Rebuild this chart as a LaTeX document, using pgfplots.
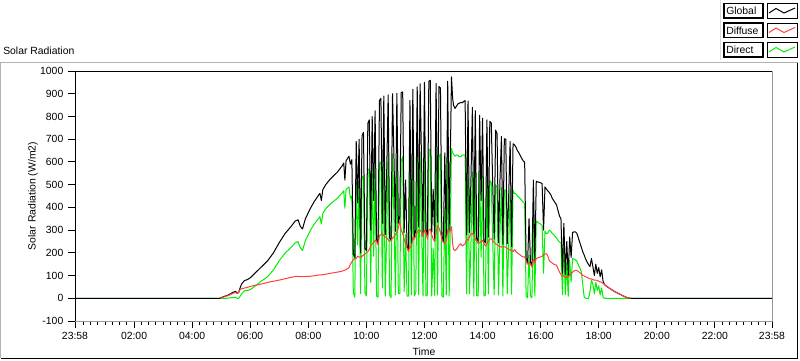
\documentclass[border=0pt]{standalone}
\usepackage{pgfplots}
\pgfplotsset{compat=1.18}
\usepackage{pgfplotstable}
\usepackage{fontspec}
\setmainfont{Liberation Sans}
\definecolor{df}{RGB}{255,64,64}
\definecolor{dr}{RGB}{0,240,0}
\newcommand{\tf}{\fontsize{7.8bp}{9bp}\selectfont}

\pgfplotstableread{
t G D B
-0.0333 0 0 0
4.95 0 0 0
5.0 3 2 0
5.1 8 6 0
5.2 12 10 0
5.3 18 15 2
5.4 26 22 3
5.5 30 25 4
5.55 22 22 0
5.6 25 25 0
5.65 45 38 8
5.7 62 42 20
5.8 78 45 33
5.9 82 48 34
6.0 90 52 38
6.2 115 58 57
6.4 140 63 77
6.6 165 70 95
6.8 200 75 125
7.0 245 80 165
7.2 285 86 199
7.4 315 92 223
7.55 340 96 244
7.65 345 96 249
7.72 318 95 223
7.8 305 95 210
7.9 350 96 254
8.07 395 97 298
8.2 425 99 326
8.4 462 103 359
8.45 430 103 327
8.5 478 104 374
8.6 500 106 394
8.76 525 110 415
9.0 555 115 440
9.15 580 119 461
9.22 595 122 473
9.26 520 124 396
9.3 605 126 479
9.4 625 135 490
9.45 590 150 440
9.50 610 160 450
9.55 195 170 25
9.60 180 175 5
9.65 690 175 515
9.70 420 185 235
9.75 700 182 518
9.80 200 180 20
9.85 715 185 530
9.90 730 190 540
9.95 220 195 25
10.00 210 200 10
10.05 770 205 565
10.10 785 215 570
10.15 300 230 70
10.20 800 240 560
10.25 430 245 185
10.30 825 255 570
10.35 260 250 10
10.40 240 235 5
10.45 870 275 595
10.50 880 280 600
10.55 330 285 45
10.60 890 275 615
10.65 280 270 10
10.70 560 265 295
10.75 895 258 637
10.80 265 250 15
10.85 258 255 3
10.90 900 265 635
10.95 620 270 350
11.00 295 280 15
11.05 902 290 612
11.10 330 310 20
11.15 360 340 20
11.20 905 300 605
11.25 908 285 623
11.30 290 260 30
11.35 520 240 280
11.40 230 220 10
11.45 215 205 10
11.50 870 230 640
11.55 240 225 15
11.60 920 270 650
11.65 270 260 10
11.70 300 275 25
11.75 930 290 640
11.80 315 300 15
11.85 944 300 644
11.90 600 290 310
11.95 280 270 10
12.00 950 300 650
12.05 300 290 10
12.10 275 260 15
12.15 955 300 655
12.20 959 305 654
12.25 290 280 10
12.30 480 260 220
12.35 262 250 12
12.40 945 290 655
12.45 335 320 15
12.50 932 310 622
12.55 925 290 635
12.60 270 260 10
12.65 250 245 5
12.70 640 240 400
12.75 265 250 15
12.80 955 300 655
12.85 300 290 10
12.90 700 300 400
12.93 974 315 659
12.97 880 240 640
13.00 850 215 635
13.05 835 210 625
13.10 845 215 630
13.15 855 225 630
13.20 858 235 623
13.25 862 240 622
13.30 860 230 630
13.35 866 235 631
13.40 870 240 630
13.45 280 260 20
13.50 868 255 613
13.55 290 270 20
13.60 520 285 235
13.65 840 285 555
13.70 285 275 10
13.75 825 260 565
13.80 262 250 12
13.85 250 240 10
13.90 805 245 560
13.95 430 250 180
14.00 792 255 537
14.05 250 240 10
14.10 245 230 15
14.15 785 240 545
14.20 270 250 20
14.25 778 260 518
14.30 772 262 510
14.35 500 255 245
14.40 260 245 15
14.45 740 240 500
14.50 725 235 490
14.55 245 230 15
14.60 520 228 292
14.65 712 225 487
14.70 238 228 10
14.75 702 226 476
14.80 700 225 475
14.85 240 220 20
14.90 450 215 235
14.95 690 212 478
15.00 228 210 18
15.05 680 205 475
15.10 675 215 460
15.15 665 205 460
15.20 650 200 450
15.25 640 195 445
15.30 628 190 438
15.35 615 185 430
15.40 605 182 423
15.45 598 182 416
15.50 175 165 10
15.55 152 150 2
15.60 350 160 190
15.65 160 150 10
15.70 140 138 2
15.75 520 170 350
15.80 165 155 10
15.85 515 175 340
15.90 512 178 334
15.95 510 180 330
16.00 508 182 326
16.05 505 185 320
16.10 300 190 110
16.15 490 195 295
16.20 480 196 284
16.25 472 185 287
16.30 465 165 300
16.35 455 160 295
16.40 440 155 285
16.45 430 150 280
16.50 420 148 272
16.55 410 145 265
16.60 385 130 255
16.65 362 115 247
16.70 350 105 245
16.75 110 95 15
16.80 330 100 230
16.85 105 90 15
16.90 250 95 155
16.95 100 92 8
17.00 270 105 165
17.05 180 108 72
17.10 290 115 175
17.15 292 120 172
17.20 292 123 169
17.25 285 122 163
17.30 265 118 147
17.35 245 112 133
17.40 225 108 117
17.45 205 100 60
17.50 190 98 5
17.55 172 95 0
17.60 160 92 0
17.65 148 88 0
17.70 140 85 30
17.75 175 85 80
17.80 138 82 60
17.85 100 80 20
17.90 150 80 70
17.95 110 78 35
18.00 135 75 55
18.05 95 72 15
18.10 125 70 45
18.15 75 66 5
18.20 60 60 0
18.30 50 50 0
18.40 42 42 0
18.50 33 33 0
18.60 26 26 0
18.70 20 20 0
18.80 13 13 0
18.90 7 7 0
19.00 2 2 0
19.10 0 0 0
23.9667 0 0 0
}\solar

\begin{document}
\begin{tikzpicture}[font=\tf]
\begin{scope}[x=0.75bp,y=-0.75bp]
\path[use as bounding box] (0,0) rectangle (800,361);
\fill[white] (0,0) rectangle (800,361);
\draw[gray!60, line width=0.75bp] (0.5,358) -- (0.5,62.5) -- (797.5,62.5);
\draw[black, line width=0.75bp] (797.5,62.5) -- (797.5,358) -- (0.5,358);
\node[anchor=west, inner sep=0] at (3,51) {Solar Radiation};
\node[rotate=90, inner sep=0] at (33,196) {Solar Radiation (W/m2)};
\node[inner sep=0] at (424,352) {Time};
% legend
\draw[gray!30, line width=0.75bp] (720.5,0) -- (720.5,60);
\foreach \yy/\nm/\cc in {3.5/Global/black, 23/Diffuse/df, 42.5/Direct/dr}{
  \draw[black, line width=0.9bp] (724,\yy) rectangle (763,\yy+14.5);
  \node[anchor=west, inner sep=0] at (726,\yy+7.5) {\nm};
  \draw[black, line width=0.75bp] (767,\yy) rectangle (797,\yy+14.5);
  \draw[\cc, line width=0.75bp] (769,\yy+9.5) -- (776,\yy+5) -- (784,\yy+9.5) -- (795,\yy+4.5);
}
\end{scope}
\begin{axis}[
  at={(56.25bp,-240.75bp)}, anchor=south west,
  scale only axis, width=522.75bp, height=187.5bp,
  xmin=-0.0333333, xmax=23.9666667, ymin=-100, ymax=1000,
  axis line style={gray!80, line width=0.75bp},
  tick align=outside, tick pos=left,
  major tick length=5.25bp, minor tick length=3bp,
  every tick/.style={black, line width=0.75bp},
  xtick={-0.0333333,2,4,6,8,10,12,14,16,18,20,22,23.9666667},
  xticklabels={23:58,02:00,04:00,06:00,08:00,10:00,12:00,14:00,16:00,18:00,20:00,22:00,23:58},
  minor xtick={0.25,0.5,...,23.75},
  ytick={-100,0,100,200,300,400,500,600,700,800,900,1000},
  yticklabels={-100,0,100,200,300,400,500,600,700,800,900,1000},
  ticklabel style={font=\tf},
  line join=round,
]
\addplot[dr, line width=0.75bp] table[x=t,y=B]{\solar};
\addplot[black, line width=0.75bp] table[x=t,y=G]{\solar};
\addplot[df, line width=0.75bp, restrict x to domain=4.9:19.2] table[x=t,y=D]{\solar};
\addplot[black, line width=0.75bp, restrict x to domain=-1:4.96] table[x=t,y=G]{\solar};
\addplot[black, line width=0.75bp, restrict x to domain=19.05:25] table[x=t,y=G]{\solar};
\draw[black, line width=0.75bp] (rel axis cs:0,0) -- (rel axis cs:0,1) -- (rel axis cs:1,1);
\end{axis}
\end{tikzpicture}
\end{document}
